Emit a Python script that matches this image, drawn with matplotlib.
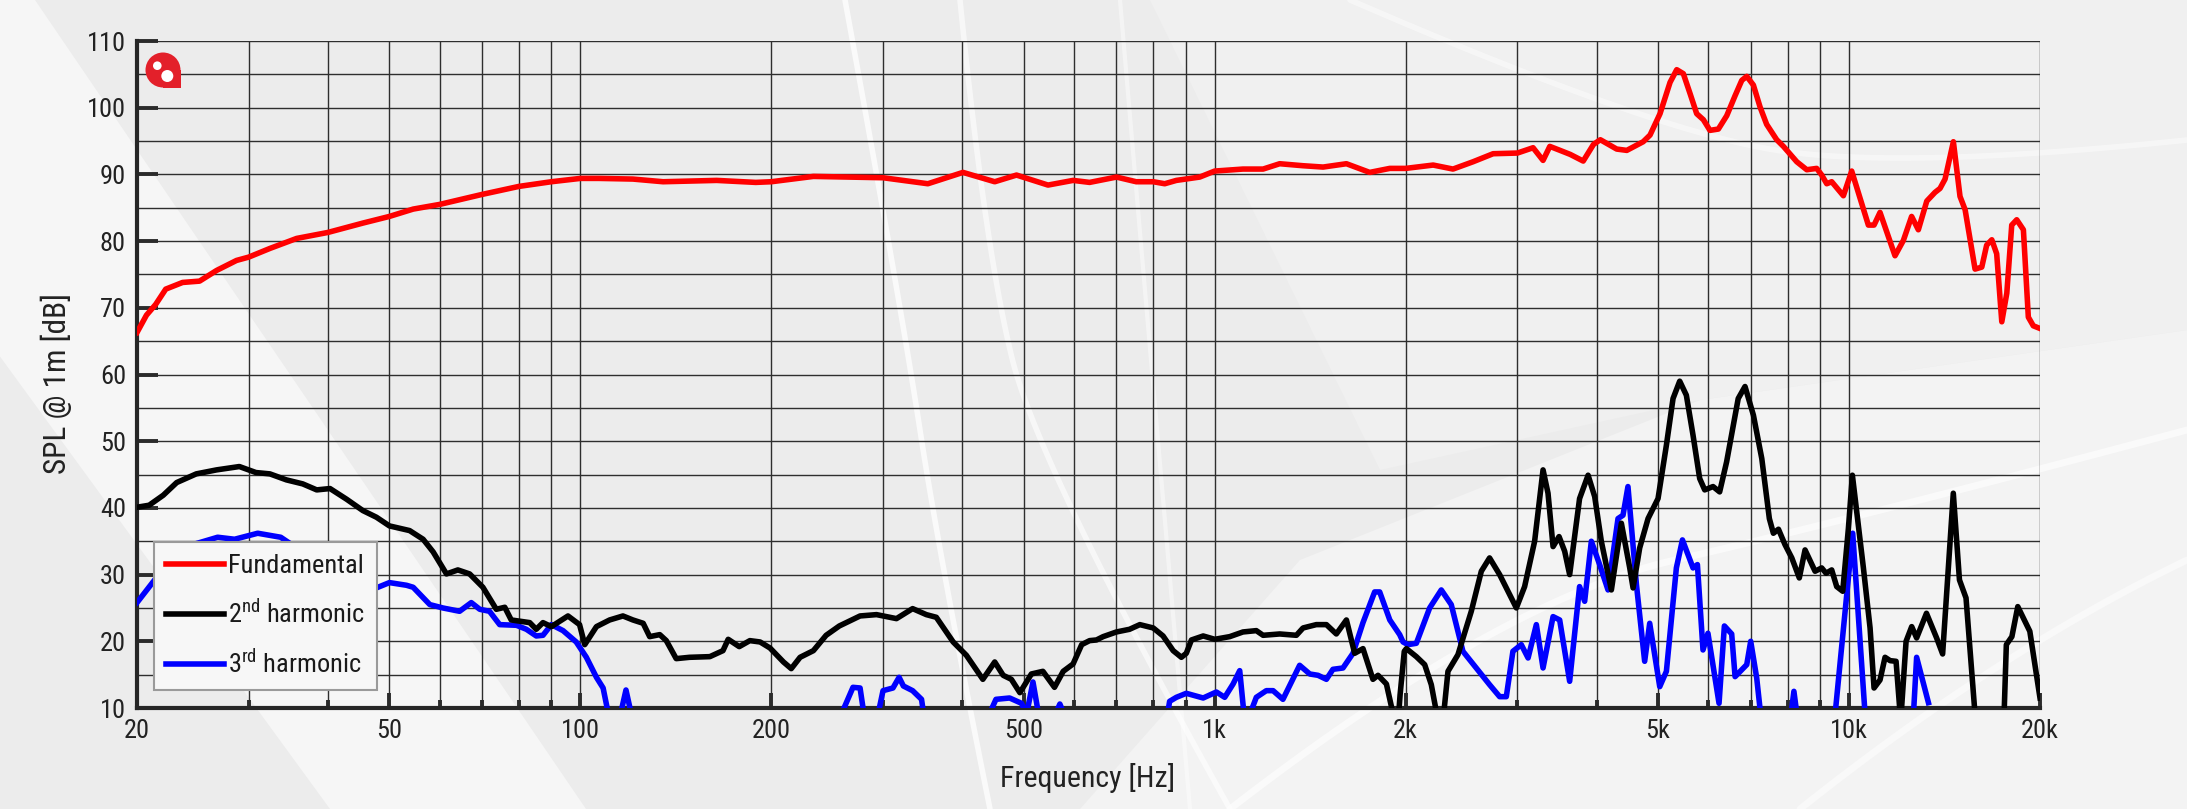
import numpy as np
import matplotlib
matplotlib.use("Agg")
import matplotlib.pyplot as plt
from matplotlib import font_manager as fm
from matplotlib.patches import Polygon, Circle, Rectangle
from matplotlib.lines import Line2D
from matplotlib.ticker import FixedLocator, NullFormatter, MultipleLocator


def pick(cands):
    for c in cands:
        try:
            fm.findfont(fm.FontProperties(family=c), fallback_to_default=False)
            return c
        except Exception:
            pass
    return "DejaVu Sans"


FONT = pick(["Liberation Sans Narrow", "Roboto Condensed", "DejaVu Sans"])
plt.rcParams["font.family"] = [FONT, "DejaVu Sans"]
plt.rcParams["mathtext.fontset"] = "custom"
plt.rcParams["mathtext.rm"] = FONT
plt.rcParams["mathtext.it"] = FONT

# ---------------- data ----------------
fund_f = [20, 20.7, 21.4, 22.2, 23.6, 25.1, 26.7, 28.7, 30, 32.4, 35.7, 40, 45.4, 50, 54.5, 60, 70, 80, 90, 100,
          107, 121, 135, 164, 189, 200, 233, 300, 353, 401, 450, 487, 546, 598, 635, 700, 752, 800, 834, 870, 947,
          1000, 1108, 1192, 1266, 1378, 1482, 1613, 1755, 1888, 2000, 2210, 2375, 2555, 2747, 3000, 3176, 3293,
          3375, 3503, 3634, 3810, 3955, 4054, 4302, 4463, 4737, 4856, 5035, 5222, 5350, 5480, 5616, 5752, 5893,
          6036, 6223, 6415, 6612, 6775, 6898, 7066, 7240, 7415, 7690, 7880, 8270, 8577, 8892, 9056, 9222, 9390,
          9797, 10097, 10726, 10950, 11190, 11816, 12180, 12550, 12860, 13260, 13660, 13914, 14170, 14604, 14960,
          15240, 15800, 16190, 16480, 16790, 17090, 17410, 17730, 18050, 18380, 18830, 19170, 19520, 20000]
fund_db = [66.3, 68.9, 70.5, 72.8, 73.8, 74.0, 75.6, 77.1, 77.6, 78.9, 80.4, 81.3, 82.7, 83.7, 84.8, 85.5, 87.0, 88.2,
           88.9, 89.4, 89.4, 89.3, 88.9, 89.1, 88.8, 88.9, 89.7, 89.5, 88.6, 90.3, 88.9, 89.9, 88.4, 89.1, 88.8, 89.6,
           88.9, 88.9, 88.6, 89.1, 89.6, 90.5, 90.8, 90.8, 91.6, 91.3, 91.1, 91.6, 90.3, 90.9, 90.9, 91.4, 90.8, 91.9,
           93.1, 93.2, 94.0, 92.1, 94.2, 93.6, 93.0, 92.0, 94.5, 95.2, 93.8, 93.6, 94.9, 95.9, 99.1, 103.8, 105.7,
           105.1, 102.1, 99.1, 98.2, 96.6, 96.8, 98.8, 101.8, 104.1, 104.7, 103.4, 100.1, 97.5, 95.2, 94.2, 91.9, 90.7,
           90.9, 89.9, 88.6, 88.9, 86.8, 90.5, 82.4, 82.4, 84.3, 77.8, 80.1, 83.7, 81.7, 86.0, 87.3, 87.9, 89.3, 94.9,
           86.7, 84.7, 75.8, 76.1, 79.4, 80.2, 78.1, 67.9, 72.2, 82.4, 83.2, 81.7, 68.6, 67.3, 66.9]

h2_f = [20, 20.9, 22.0, 23.1, 24.8, 26.7, 29.0, 30.8, 32.4, 34.4, 36.5, 38.4, 40.3, 42.8, 45.4, 47.7, 50, 53.8, 56.5,
        58.6, 61.5, 64.1, 66.9, 70.2, 73.7, 76.0, 77.8, 83.2, 85.2, 87.3, 90, 95.6, 99.7, 101.6, 106, 111.2, 116.7,
        121, 125.6, 128.6, 133.4, 136.6, 141.6, 148.6, 160, 167.8, 171, 178, 185, 192, 199, 209, 215, 222, 233, 244,
        256, 276, 293, 315, 334, 351, 364, 387, 406, 431, 450, 464, 478, 493, 514, 536, 559, 577, 598, 617, 635, 651,
        667, 700, 734, 762, 800, 829, 860, 886, 902, 919, 959, 1000, 1056, 1108, 1163, 1192, 1266, 1345, 1378, 1446,
        1500, 1555, 1613, 1662, 1713, 1776, 1809, 1865, 1922, 1946, 1960, 1990, 2005, 2079, 2143, 2195, 2235, 2290,
        2332, 2418, 2538, 2632, 2712, 2813, 2900, 2989, 3080, 3194, 3293, 3353, 3415, 3490, 3562, 3627, 3760, 3878,
        3972, 4069, 4220, 4376, 4511, 4566, 4677, 4821, 4999, 5153, 5279, 5408, 5540, 5676, 5815, 5922, 6104, 6252,
        6412, 6688, 6855, 7067, 7285, 7488, 7598, 7740, 7925, 8124, 8348, 8524, 8840, 9055, 9200, 9390, 9562, 9773,
        9976, 10122, 10283, 10535, 10793, 10950, 11190, 11396, 11608, 11861, 12062, 12300, 12554, 12780, 13245,
        13742, 14045, 14600, 14930, 15290, 15800, 16500, 17500, 17700, 18060, 18450, 19275, 20000]
h2_db = [40.1, 40.4, 41.9, 43.8, 45.1, 45.7, 46.2, 45.3, 45.1, 44.2, 43.6, 42.7, 42.9, 41.3, 39.6, 38.6, 37.3, 36.6,
         35.3, 33.4, 30.1, 30.7, 30.1, 28.1, 24.8, 25.1, 23.2, 22.8, 21.8, 22.8, 22.2, 23.8, 22.5, 19.5, 22.2, 23.2,
         23.8, 23.2, 22.7, 20.7, 21.0, 20.1, 17.4, 17.6, 17.7, 18.6, 20.3, 19.2, 20.1, 19.9, 19.0, 16.9, 15.9, 17.6,
         18.6, 20.9, 22.3, 23.8, 24.0, 23.4, 24.9, 24.0, 23.6, 19.9, 17.9, 14.3, 16.9, 14.9, 14.3, 12.3, 15.1, 15.5,
         13.1, 15.5, 16.6, 19.5, 20.1, 20.2, 20.7, 21.4, 21.8, 22.5, 22.0, 20.8, 18.6, 17.6, 18.2, 20.2, 20.8, 20.3,
         20.7, 21.4, 21.6, 20.9, 21.1, 20.9, 22.0, 22.5, 22.5, 21.1, 23.2, 18.2, 18.9, 14.3, 14.9, 13.6, 8.0, 8.0,
         12.0, 18.5, 18.9, 17.7, 16.5, 13.5, 9.5, 8.0, 15.5, 18.0, 24.5, 30.5, 32.5, 30.0, 27.5, 25.0, 28.2, 35.0,
         45.7, 42.2, 34.2, 35.7, 33.5, 30.0, 41.4, 44.9, 41.7, 35.0, 27.7, 37.7, 31.0, 28.0, 34.0, 38.4, 41.4, 49.4,
         56.4, 59.0, 56.9, 50.9, 44.4, 42.7, 43.2, 42.4, 46.9, 56.4, 58.2, 53.9, 47.4, 38.4, 36.2, 36.8, 34.5, 32.5,
         29.5, 33.7, 30.5, 31.0, 30.2, 30.7, 28.2, 27.5, 36.9, 44.9, 39.4, 31.0, 22.0, 13.0, 14.2, 17.6, 17.1, 17.0,
         8.0, 20.0, 22.2, 20.5, 24.2, 20.5, 18.1, 42.2, 29.2, 26.5, 9.0, 5.0, 5.0, 19.5, 20.7, 25.2, 21.5, 11.5]

h3_f = [20, 21.4, 23, 24.5, 26.8, 28.5, 31, 33.7, 37, 40, 43, 46, 50, 53.2, 54.5, 57.9, 60.7, 64.5, 67.3, 69.4, 71.9,
        74.6, 79.3, 82.2, 85.2, 87.3, 90, 93.9, 98.5, 102.2, 106, 108.6, 111.3, 115, 118, 121, 255, 269, 276, 281,
        293, 300, 311, 318, 323, 334, 345, 349, 436, 452, 475, 496, 505, 517, 530, 555, 570, 585, 839, 849, 870,
        902, 959, 1006, 1037, 1069, 1095, 1115, 1125, 1163, 1206, 1236, 1281, 1361, 1412, 1455, 1500, 1536, 1593,
        1652, 1713, 1787, 1820, 1888, 1957, 1981, 2017, 2079, 2182, 2276, 2360, 2462, 2584, 2712, 2813, 2882, 2952,
        3043, 3119, 3214, 3293, 3415, 3498, 3627, 3760, 3830, 3924, 4044, 4169, 4323, 4402, 4482, 4622, 4762, 4850,
        5030, 5153, 5343, 5462, 5676, 5767, 5885, 5992, 6238, 6360, 6531, 6612, 6898, 6998, 7152, 7256, 8050, 8186,
        8330, 9400, 9505, 10134, 10600, 10800, 12500, 12650, 12780, 13340]
h3_db = [25.8, 29.4, 32.5, 34.5, 35.6, 35.3, 36.2, 35.6, 33.0, 30.5, 28.5, 27.4, 28.8, 28.4, 28.1, 25.5, 25.0, 24.5,
         25.8, 24.8, 24.5, 22.5, 22.4, 21.8, 20.8, 20.9, 22.5, 21.6, 19.9, 17.6, 14.6, 13.0, 8.0, 8.0, 12.7, 8.0, 8.0,
         13.1, 13.0, 8.0, 8.0, 12.6, 13.0, 14.6, 13.3, 12.6, 11.3, 8.0, 8.0, 11.3, 11.5, 10.7, 9.0, 13.9, 8.0, 8.0,
         10.6, 8.0, 8.0, 11.0, 11.6, 12.2, 11.5, 12.4, 11.6, 13.6, 15.6, 8.0, 8.0, 11.6, 12.6, 12.6, 11.3, 16.4, 15.1,
         14.9, 14.3, 15.8, 16.0, 18.2, 22.8, 27.4, 27.4, 23.2, 21.0, 19.9, 19.5, 19.7, 25.0, 27.7, 25.5, 18.5, 16.0,
         13.5, 11.7, 11.7, 18.5, 19.5, 17.5, 22.5, 16.0, 23.7, 23.2, 14.0, 28.2, 26.0, 35.0, 31.5, 27.7, 38.4, 38.9,
         43.2, 28.5, 17.0, 22.7, 13.2, 15.5, 31.0, 35.2, 31.0, 31.5, 18.7, 21.2, 10.7, 22.3, 21.1, 14.7, 16.5, 20.0,
         14.5, 9.0, 7.0, 12.5, 7.0, 7.0, 9.0, 36.2, 9.0, 7.0, 7.0, 10.0, 17.6, 10.8]

legend_labels = ["Fundamental", "$2^{\\mathrm{nd}}$ harmonic", "$3^{\\mathrm{rd}}$ harmonic"]
xtick_vals = [20, 50, 100, 200, 500, 1000, 2000, 5000, 10000, 20000]
xtick_labels = ["20", "50", "100", "200", "500", "1k", "2k", "5k", "10k", "20k"]
xminor_vals = [30, 40, 60, 70, 80, 90, 300, 400, 600, 700, 800, 900,
               3000, 4000, 6000, 7000, 8000, 9000]
ytick_vals = list(range(10, 111, 10))

# ---------------- figure ----------------
W, H = 2187, 809
fig = plt.figure(figsize=(W / 100, H / 100), dpi=100, facecolor="#ececec")
T = fig.dpi_scale_trans


def px(pts):
    return [(x / 100.0, (H - y) / 100.0) for x, y in pts]


def smooth(pts, n=60):
    # quadratic B-spline style smoothing of a decorative control polygon
    p = np.array(pts, dtype=float)
    out = [p[0]]
    for i in range(1, len(p) - 1):
        a = (p[i - 1] + p[i]) / 2 if i > 1 else p[0]
        c = (p[i] + p[i + 1]) / 2 if i < len(p) - 2 else p[-1]
        t = np.linspace(0, 1, n)[:, None]
        out.extend(((1 - t) ** 2) * a + 2 * (1 - t) * t * p[i] + (t ** 2) * c)
    out.append(p[-1])
    return np.array(out)


# background decorations (pixel coordinates, top-left origin)
bg = [
    (px([(35, 0), (586, 809), (330, 809), (-260, 0)]), "#f6f6f6"),
    (px([(1080, 809), (1300, 560), (1700, 400), (2187, 330), (2187, 809)]), "#f3f3f3"),
    (px([(1150, 0), (2187, 0), (2187, 330), (1700, 400), (1380, 470)]), "#f0f0f0"),
]
for pts, col in bg:
    fig.add_artist(Polygon(pts, closed=True, transform=T, facecolor=col, edgecolor="none", zorder=-10))

streaks = [
    ([(845, 0), (900, 300), (940, 560), (990, 809)], 4, 0.75),
    ([(960, 0), (985, 250), (1040, 470), (1230, 809)], 4, 0.6),
    ([(1120, 0), (1150, 350), (1190, 809)], 3, 0.45),
    ([(1230, 809), (1500, 600), (1850, 520), (2187, 430)], 5, 0.6),
    ([(1350, 0), (1650, 130), (1900, 170), (2187, 140)], 4, 0.45),
    ([(1800, 809), (2000, 650), (2187, 560)], 5, 0.5),
]
for s, lw, al in streaks:
    c = smooth(s)
    fig.add_artist(Line2D(c[:, 0] / 100, (H - c[:, 1]) / 100, transform=T, color="white", lw=lw,
                          alpha=al, zorder=-5, solid_capstyle="round"))

ax_l, ax_r, ax_t, ax_b = 137, 2040, 41, 708
ax = fig.add_axes([ax_l / W, 1 - ax_b / H, (ax_r - ax_l) / W, (ax_b - ax_t) / H])
ax.set_facecolor("none")

ax.plot(fund_f, fund_db, color="#ff0000", lw=4.0, label=legend_labels[0], zorder=5, solid_joinstyle="round")
ax.plot(h2_f, h2_db, color="#000000", lw=4.0, label=legend_labels[1], zorder=4, solid_joinstyle="round")
ax.plot(h3_f, h3_db, color="#0000ff", lw=4.0, label=legend_labels[2], zorder=3, solid_joinstyle="round")

ax.set_xscale("log")
ax.set_xlim(20, 20000)
ax.set_ylim(10, 110)

ax.xaxis.set_major_locator(FixedLocator(xtick_vals))
ax.xaxis.set_minor_locator(FixedLocator(xminor_vals))
ax.set_xticklabels(xtick_labels)
ax.xaxis.set_minor_formatter(NullFormatter())
ax.yaxis.set_major_locator(FixedLocator(ytick_vals))
ax.yaxis.set_minor_locator(MultipleLocator(5))

tick_col = "#2b2b2b"
ax.tick_params(axis="x", which="major", direction="in", length=10.5, width=2.8, color=tick_col,
               labelsize=19, labelcolor="#222222", pad=8)
ax.tick_params(axis="x", which="minor", direction="in", length=5.5, width=2.8, color=tick_col)
ax.tick_params(axis="y", which="major", direction="in", length=15, width=2.8, color=tick_col,
               labelsize=19, labelcolor="#222222", pad=8)
ax.tick_params(axis="y", which="minor", length=0)

ax.grid(True, which="both", axis="both", color="#2e2e2e", lw=1.0, zorder=1)
ax.set_axisbelow(True)

for s in ["top", "right"]:
    ax.spines[s].set_visible(False)
for s in ["left", "bottom"]:
    ax.spines[s].set_linewidth(3.0)
    ax.spines[s].set_color("#262626")

leg = ax.legend(loc="lower left", bbox_to_anchor=(0.009, 0.027), borderaxespad=0, fontsize=19,
                handlelength=2.2, handletextpad=0.15, labelspacing=0.82, borderpad=0.45,
                fancybox=False, framealpha=1.0, facecolor="#f7f7f7", edgecolor="#9a9a9a")
leg.get_frame().set_linewidth(1.5)
leg.set_zorder(20)
for t in leg.get_texts():
    t.set_color("#1a1a1a")

fig.text(1088 / W, 1 - 778 / H, "Frequency [Hz]", ha="center", va="center", fontsize=21.5, color="#222222")
fig.text(56 / W, 1 - 384 / H, "SPL @ 1m [dB]", ha="center", va="center", rotation=90, fontsize=22.5,
         color="#222222")

# logo
fig.add_artist(Circle((1.63, (H - 70) / 100), 0.175, transform=T, facecolor="#e3202a", edgecolor="none", zorder=30))
fig.add_artist(Rectangle((1.63, (H - 87.5) / 100), 0.18, 0.175, transform=T, facecolor="#e3202a",
                         edgecolor="none", zorder=30))
fig.add_artist(Circle((1.573, (H - 65.7) / 100), 0.043, transform=T, facecolor="white", edgecolor="none", zorder=31))
fig.add_artist(Circle((1.673, (H - 76) / 100), 0.06, transform=T, facecolor="white", edgecolor="none", zorder=31))

fig.savefig("out.png", dpi=100, facecolor=fig.get_facecolor())
